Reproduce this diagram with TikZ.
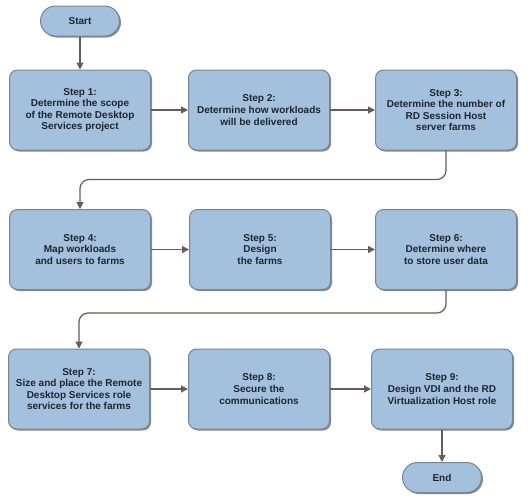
\documentclass[tikz,border=0pt]{standalone}
\usepackage{fontspec}
\setmainfont{Liberation Sans}
\usetikzlibrary{arrows.meta,shadows}
\definecolor{boxfill}{HTML}{A3C0DC}
\definecolor{boxline}{HTML}{76859A}
\definecolor{arrowc}{HTML}{6B5A55}
\definecolor{txt}{HTML}{1E2630}
\tikzset{
  base/.style={draw=boxline, line width=1pt, fill=boxfill, align=center,
    text=txt, font=\bfseries\fontsize{10}{11.6}\selectfont,
    drop shadow={shadow xshift=1.5pt, shadow yshift=-1.5pt, fill=black!65, opacity=0.7}},
  stepbox/.style={base, rounded corners=8pt, minimum width=141pt, minimum height=80pt, inner sep=2pt},
  pill/.style={base, rounded corners=15pt, minimum width=79pt, minimum height=30pt},
  conn/.style={draw=arrowc, line width=1.2pt, -{Triangle[length=7pt,width=7pt]}, rounded corners=9pt}
}
\begin{document}
\begin{tikzpicture}[x=1pt,y=-1pt]
\useasboundingbox (0,0) rectangle (528,499);
\fill[white] (0,0) rectangle (528,499);

\node[pill] (start) at (80,21) {Start};
\node[stepbox] (s1) at (80,110) {Step 1:\\Determine the scope\\of the Remote Desktop\\Services project};
\node[stepbox] (s2) at (259,110) {Step 2:\\Determine how workloads\\will be delivered};
\node[stepbox] (s3) at (446,110) {Step 3:\\Determine the number of\\RD Session Host\\server farms};

\node[stepbox] (s4) at (80,249.5) {Step 4:\\Map workloads\\and users to farms};
\node[stepbox] (s5) at (260,249.5) {Step 5:\\Design\\the farms};
\node[stepbox] (s6) at (446,249.5) {Step 6:\\Determine where\\to store user data};

\node[stepbox] (s7) at (79,389) {Step 7:\\Size and place the Remote\\Desktop Services role\\services for the farms};
\node[stepbox] (s8) at (259,389) {Step 8:\\Secure the\\communications};
\node[stepbox] (s9) at (442,389) {Step 9:\\Design VDI and the RD\\Virtualization Host role};
\node[pill] (end) at (442,477.5) {End};

\draw[conn] (start) -- (s1);
\draw[conn] (s1) -- (s2);
\draw[conn] (s2) -- (s3);
\draw[conn] (s3.south) -- (s3.south |- 0,179.5) -- (s4.north |- 0,179.5) -- (s4.north);
\draw[conn] (s4) -- (s5);
\draw[conn] (s5) -- (s6);
\draw[conn] (s6.south) -- (s6.south |- 0,313) -- (s7.north |- 0,313) -- (s7.north);
\draw[conn] (s7) -- (s8);
\draw[conn] (s8) -- (s9);
\draw[conn] (s9) -- (end);
\end{tikzpicture}
\end{document}
